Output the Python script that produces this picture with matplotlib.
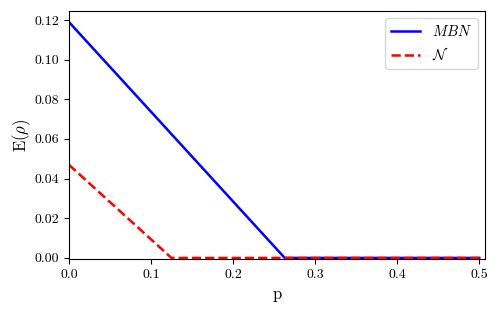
import matplotlib
matplotlib.use("Agg")
import matplotlib.pyplot as plt

# LaTeX-like look without a TeX install
plt.rcParams['font.family'] = 'serif'
plt.rcParams['font.serif'] = ['cmr10']
plt.rcParams['mathtext.fontset'] = 'cm'
plt.rcParams['axes.formatter.use_mathtext'] = True

# data (breakpoints of the piecewise lines)
p_mbn = [0.0, 0.263, 0.5]
e_mbn = [0.119, 0.0, 0.0]
p_n = [0.0, 0.125, 0.5]
e_n = [0.047, 0.0, 0.0]

fig, ax = plt.subplots(figsize=(4.99, 3.15), dpi=100)
ax.plot(p_mbn, e_mbn, color='blue', lw=1.8, label=r'$MBN$')
ax.plot(p_n, e_n, color='red', lw=1.8, ls='--', label=r'$\mathcal{N}$')

ax.set_xlim(0, 0.507)
ax.set_ylim(-0.0005, 0.1245)
ax.set_xticks([0.0, 0.1, 0.2, 0.3, 0.4, 0.5])
ax.set_yticks([0.0, 0.02, 0.04, 0.06, 0.08, 0.10, 0.12])
ax.set_yticklabels(['0.00', '0.02', '0.04', '0.06', '0.08', '0.10', '0.12'])
ax.set_xticklabels(['0.0', '0.1', '0.2', '0.3', '0.4', '0.5'])
ax.tick_params(labelsize=10)
ax.set_xlabel('p', fontsize=12)
ax.set_ylabel(r'E$(\rho)$', fontsize=12, labelpad=1)
ax.legend(loc='upper right', fontsize=10.5)

fig.subplots_adjust(left=0.138, right=0.972, top=0.965, bottom=0.178)
fig.savefig('out.png', dpi=100)
